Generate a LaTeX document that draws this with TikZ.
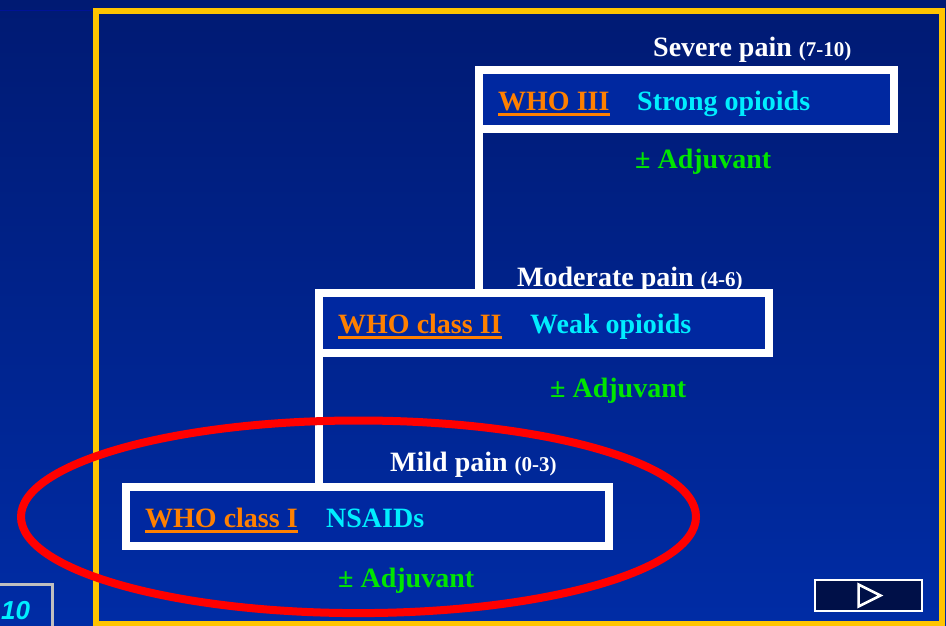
\documentclass[tikz,border=0pt]{standalone}
\usepackage{fontspec}
\setmainfont{Liberation Serif}
\setsansfont{Liberation Sans}
\usepackage{tikz}
\usetikzlibrary{positioning, calc}

\definecolor{navytop}{RGB}{0,26,115}
\definecolor{navybot}{RGB}{0,44,165}
\definecolor{boxfill}{RGB}{0,40,160}
\definecolor{framey}{RGB}{255,196,0}
\definecolor{whoorange}{RGB}{255,128,0}
\definecolor{drugcyan}{RGB}{0,238,255}
\definecolor{adjgreen}{RGB}{0,230,0}
\definecolor{btnfill}{RGB}{0,16,72}

\begin{document}
\begin{tikzpicture}[x=1pt, y=-1pt,
    stepbox/.style={draw=white, line width=8pt, fill=boxfill, outer sep=0pt, inner sep=0pt},
    link/.style={draw=white, line width=8pt},
    lbl/.style={anchor=base west, inner sep=0pt, font=\fontsize{28}{30}\selectfont\bfseries},
    painlbl/.style={lbl, text=white},
    wholbl/.style={lbl, text=whoorange},
    druglbl/.style={lbl, text=drugcyan},
    adjlbl/.style={lbl, text=adjgreen},
    wholine/.style={draw=whoorange, line width=2.6pt}]
    \newcommand{\rng}[1]{{\fontsize{21}{24}\selectfont #1}}
    \useasboundingbox (0,0) rectangle (946,625);
    \clip (0,0) rectangle (946,625);
    \shade[top color=navytop, bottom color=navybot] (0,0) rectangle (946,625);
    \draw[framey, line width=6pt] (96,10.5) rectangle (942,624);
    \draw[blue!25!navytop, line width=1pt] (0,10) -- (93,10);
    % the three steps
    \node[stepbox, minimum width=414.5pt, minimum height=59.5pt] (b3) at (686.25,99.25) {};
    \node[stepbox, minimum width=450pt, minimum height=60pt] (b2) at (544,323) {};
    \node[stepbox, minimum width=483pt, minimum height=59pt] (b1) at (367.5,516.5) {};
    \draw[link] (b3.south west) -- (b3.south west |- b2.north);
    \draw[link] (b2.south west) -- (b2.south west |- b1.north);
    % labels
    \node[painlbl] (p3) at (653,56) {Severe pain \rng{(7-10)}};
    \node[wholbl] (w3) at (498,110) {WHO III};
    \node[druglbl] (d3) at (637,110) {Strong opioids};
    \node[adjlbl] (a3) at (635,168) {± Adjuvant};
    \node[painlbl] (p2) at (517,286) {Moderate pain \rng{(4-6)}};
    \node[wholbl] (w2) at (338,333) {WHO class II};
    \node[druglbl] (d2) at (530,333) {Weak opioids};
    \node[adjlbl] (a2) at (550,397) {± Adjuvant};
    \node[painlbl] (p1) at (390,471) {Mild pain \rng{(0-3)}};
    \node[wholbl] (w1) at (145,527) {WHO class I};
    \node[druglbl] (d1) at (326,527) {NSAIDs};
    \node[adjlbl] (a1) at (338,587) {± Adjuvant};
    \foreach \w in {w1,w2,w3}
      \draw[wholine] ([yshift=-4.5pt]\w.base west) -- ([yshift=-4.5pt]\w.base east);
    % highlight ring
    \draw[red, line width=8pt] (358.5,516.8) ellipse [x radius=337.5, y radius=96.3];
    % page number and next button
    \draw[gray!50, line width=2.5pt] (-5,584.5) rectangle (52.5,640);
    \node[anchor=base west, inner sep=0pt, text=drugcyan,
          font=\sffamily\bfseries\itshape\fontsize{26}{28}\selectfont] (pg) at (1,619) {10};
    \node[draw=white, line width=1.5pt, fill=btnfill, minimum width=107pt, minimum height=31pt,
          inner sep=0pt] (nextbtn) at (868.5,595.5) {};
    \draw[white, line width=2.5pt, line join=miter] ($(nextbtn.center)+(-10,-11)$) -- ($(nextbtn.center)+(12,0)$)
      -- ($(nextbtn.center)+(-10,11)$) -- cycle;
\end{tikzpicture}
\end{document}
